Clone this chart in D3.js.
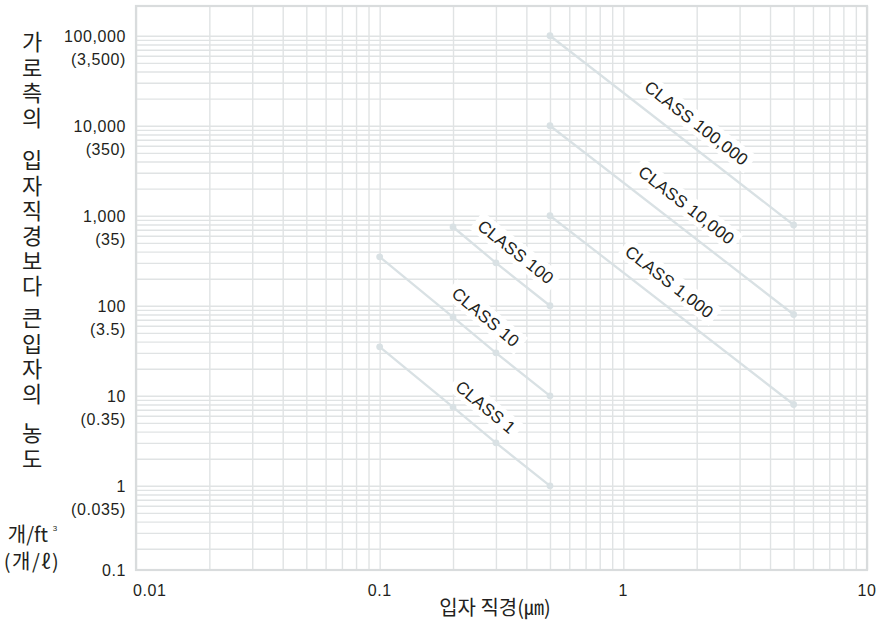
<!DOCTYPE html>
<html>
<head>
<meta charset="utf-8">
<script src="https://cdn.jsdelivr.net/npm/d3@7/dist/d3.min.js"></script>
<style>
  body { margin: 0; background: #fff; }
  svg { display: block; }
  text { font-family: "Liberation Sans", Arial, "Noto Sans CJK KR", sans-serif; fill: #231f20; }
  text.kr { font-family: "Noto Sans CJK KR", sans-serif; }
  text.vertical { writing-mode: vertical-rl; text-orientation: upright; }
</style>
</head>
<body>
<div id="chart"></div>
<script>
// axis ticks
const xTicks = [0.01, 0.1, 1, 10];
const xTickLabels = ['0.01', '0.1', '1', '10'];
const yTicks = [100000, 10000, 1000, 100, 10, 1, 0.1];
const yTickLabels = ['100,000', '10,000', '1,000', '100', '10', '1', '0.1'];
const ySubLabels = ['(3,500)', '(350)', '(35)', '(3.5)', '(0.35)', '(0.035)', ''];

// particle size (um) -> particles per ft3
const classNames = ['CLASS 1', 'CLASS 10', 'CLASS 100', 'CLASS 1,000', 'CLASS 10,000', 'CLASS 100,000'];
const class1 = [[0.1, 35], [0.2, 7.5], [0.3, 3], [0.5, 1]];
const class10 = [[0.1, 350], [0.2, 75], [0.3, 30], [0.5, 10]];
const class100 = [[0.2, 750], [0.3, 300], [0.5, 100]];
const class1000 = [[0.5, 1000], [5, 8]];
const class10000 = [[0.5, 10000], [5, 80]];
const class100000 = [[0.5, 100000], [5, 790]];
const classSeries = [class1, class10, class100, class1000, class10000, class100000];
// where along each line the label sits (um)
const labelAt = [0.24, 0.24, 0.32, 1.37, 1.61, 1.77];

const yTitle = ['가로측의', '입자직경보다', '큰입자의', '농도'];
const xTitle = '입자 직경(㎛)';

const width = 889;
const height = 630;
const plot = { left: 136, right: 867, top: 6, bottom: 570 };

const svg = d3.select('#chart')
  .append('svg')
  .attr('width', width)
  .attr('height', height);

const x = d3.scaleLog().domain([0.01, 10]).range([plot.left, plot.right]);
const y = d3.scaleLog().domain([0.116, 214000]).range([plot.bottom, plot.top]);

// log grid: 1..9 per decade
const xGrid = [];
[0.01, 0.1, 1].forEach(d => d3.range(1, 10).forEach(k => xGrid.push(d * k)));
xGrid.push(10);
const yGrid = [];
[0.1, 1, 10, 100, 1000, 10000].forEach(d => d3.range(1, 10).forEach(k => yGrid.push(d * k)));
yGrid.push(100000);

const gridColor = '#e0e3e4';

svg.append('g')
  .attr('class', 'grid x')
  .attr('transform', `translate(0, ${plot.bottom})`)
  .call(d3.axisBottom(x)
    .tickValues(xGrid)
    .tickSize(-(plot.bottom - plot.top))
    .tickFormat(''))
  .call(g => g.select('.domain').remove())
  .call(g => g.selectAll('line').attr('stroke', gridColor).attr('stroke-width', 1.4));

svg.append('g')
  .attr('class', 'grid y')
  .attr('transform', `translate(${plot.left}, 0)`)
  .call(d3.axisLeft(y)
    .tickValues(yGrid.filter(v => v >= y.domain()[0]))
    .tickSize(-(plot.right - plot.left))
    .tickFormat(''))
  .call(g => g.select('.domain').remove())
  .call(g => g.selectAll('line').attr('stroke', gridColor).attr('stroke-width', 1.4));

svg.append('rect')
  .attr('x', plot.left)
  .attr('y', plot.top)
  .attr('width', plot.right - plot.left)
  .attr('height', plot.bottom - plot.top)
  .attr('fill', 'none')
  .attr('stroke', '#d9dcdd')
  .attr('stroke-width', 2.2);

// class labels on white boxes
const lineColor = '#d9e1e4';
const labelOffset = 21;

function pointOnLine(series, xv) {
  const pts = series.map(d => [x(d[0]), y(d[1])]);
  let i = 0;
  while (i < pts.length - 2 && x(xv) > pts[i + 1][0]) i++;
  const [a, b] = [pts[i], pts[i + 1]];
  const t = (x(xv) - a[0]) / (b[0] - a[0]);
  const angle = Math.atan2(b[1] - a[1], b[0] - a[0]);
  return { px: x(xv), py: a[1] + t * (b[1] - a[1]), angle };
}

const labels = svg.append('g').attr('class', 'class-labels');

classSeries.forEach((series, i) => {
  const { px, py, angle } = pointOnLine(series, labelAt[i]);
  const cx = px + labelOffset * Math.sin(angle);
  const cy = py - labelOffset * Math.cos(angle);
  const g = labels.append('g')
    .attr('transform', `translate(${cx}, ${cy}) rotate(${angle * 180 / Math.PI})`);
  const box = g.append('rect').attr('fill', '#fff');
  const t = g.append('text')
    .attr('text-anchor', 'middle')
    .attr('dy', '0.36em')
    .attr('font-size', 17)
    .attr('letter-spacing', 0.3)
    .text(classNames[i]);
  const len = t.node().getComputedTextLength();
  box.attr('x', -len / 2 - 5).attr('y', -11).attr('width', len + 10).attr('height', 22);
});

const line = d3.line().x(d => x(d[0])).y(d => y(d[1]));

const series = svg.append('g').attr('class', 'series');
classSeries.forEach(data => {
  series.append('path')
    .attr('d', line(data))
    .attr('fill', 'none')
    .attr('stroke', lineColor)
    .attr('stroke-width', 2.3);
  series.selectAll(null)
    .data(data)
    .enter()
    .append('circle')
    .attr('cx', d => x(d[0]))
    .attr('cy', d => y(d[1]))
    .attr('r', 3.4)
    .attr('fill', lineColor);
});

// x tick labels
svg.append('g')
  .selectAll('text')
  .data(xTicks)
  .enter()
  .append('text')
  .attr('x', (d, i) => (i === 0 ? x(d) - 3 : x(d)))
  .attr('y', 596)
  .attr('text-anchor', (d, i) => (i === 0 ? 'start' : 'middle'))
  .attr('font-size', 16)
  .attr('letter-spacing', 0.6)
  .text((d, i) => xTickLabels[i]);

// y tick labels, two lines each
const yl = svg.append('g')
  .selectAll('text')
  .data(yTicks)
  .enter()
  .append('text')
  .attr('text-anchor', 'end')
  .attr('font-size', 16)
  .attr('letter-spacing', 0.6);
yl.append('tspan')
  .attr('x', 126)
  .attr('y', d => Math.min(y(d), plot.bottom) + 6)
  .text((d, i) => yTickLabels[i]);
yl.append('tspan')
  .attr('x', 126)
  .attr('y', d => y(d) + 29)
  .text((d, i) => ySubLabels[i]);

// axis titles
svg.append('text')
  .attr('class', 'kr')
  .attr('x', 495)
  .attr('y', 608)
  .attr('dy', '0.36em')
  .attr('text-anchor', 'middle')
  .attr('font-size', 20)
  .text(xTitle);

// vertical title, one column of upright characters per phrase
const titleTops = [31, 149, 307, 422];
svg.append('g')
  .selectAll('text')
  .data(yTitle)
  .enter()
  .append('text')
  .attr('class', 'kr vertical')
  .attr('x', 32)
  .attr('y', (d, i) => titleTops[i])
  .attr('font-size', 22)
  .attr('letter-spacing', 3.2)
  .text(d => d);

const unit = svg.append('g');
unit.append('text')
  .attr('class', 'kr')
  .attr('x', 28)
  .attr('y', 535)
  .attr('dy', '0.36em')
  .attr('text-anchor', 'middle')
  .attr('font-size', 20)
  .text('개/ft');
unit.append('text')
  .attr('x', 55)
  .attr('y', 531)
  .attr('text-anchor', 'middle')
  .attr('font-size', 8)
  .text('3');
unit.append('text')
  .attr('class', 'kr')
  .attr('x', 32)
  .attr('y', 562)
  .attr('dy', '0.36em')
  .attr('text-anchor', 'middle')
  .attr('font-size', 20)
  .attr('letter-spacing', 1.5)
  .text('(개/ℓ)');
</script>
</body>
</html>
